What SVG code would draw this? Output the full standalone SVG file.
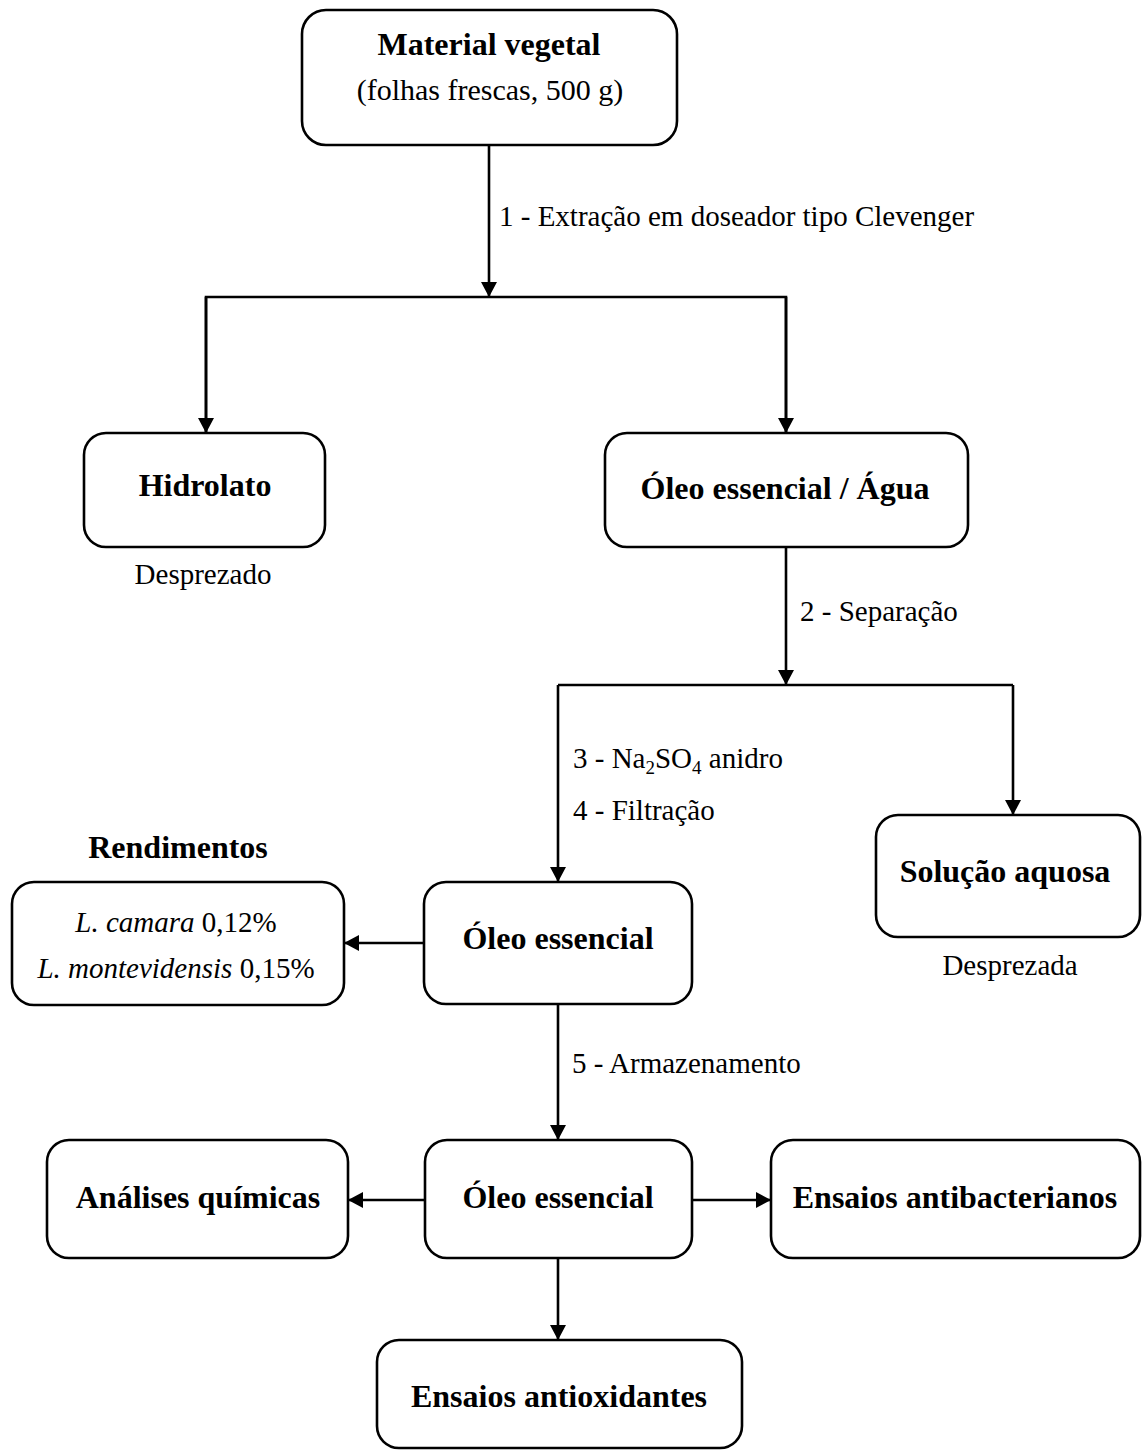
<svg xmlns="http://www.w3.org/2000/svg" width="1142" height="1452" viewBox="0 0 1142 1452">
<style>
  .box { fill: #ffffff; stroke: #000000; stroke-width: 2.6; }
  .conn { fill: none; stroke: #000000; stroke-width: 2.6; }
  text { font-family: "Liberation Serif", "Times New Roman", serif; fill: #000000; }
  .b { font-weight: bold; font-size: 32px; text-anchor: middle; }
  .r { font-size: 30px; text-anchor: middle; }
  .lbl { font-size: 29px; }
  .note { font-size: 29px; text-anchor: middle; }
  .it { font-style: italic; }
</style>
<defs>
  <marker id="arrow" viewBox="0 0 15 16" refX="15" refY="8" markerWidth="15" markerHeight="16" markerUnits="userSpaceOnUse" orient="auto">
    <path d="M0,0 L15,8 L0,16 Z" fill="#000000"/>
  </marker>
</defs>
<rect width="1142" height="1452" fill="#ffffff"/>

<g id="connectors">
  <line class="conn" x1="489" y1="145" x2="489" y2="297" marker-end="url(#arrow)"/>
  <polyline class="conn" points="206,433 206,297 786,297 786,433"/>
  <line class="conn" x1="206" y1="297" x2="206" y2="433" marker-end="url(#arrow)"/>
  <line class="conn" x1="786" y1="297" x2="786" y2="433" marker-end="url(#arrow)"/>
  <line class="conn" x1="786" y1="547" x2="786" y2="685" marker-end="url(#arrow)"/>
  <polyline class="conn" points="558,685 1013,685"/>
  <line class="conn" x1="558" y1="685" x2="558" y2="882" marker-end="url(#arrow)"/>
  <line class="conn" x1="1013" y1="685" x2="1013" y2="815" marker-end="url(#arrow)"/>
  <line class="conn" x1="424" y1="943" x2="344" y2="943" marker-end="url(#arrow)"/>
  <line class="conn" x1="558" y1="1004" x2="558" y2="1140" marker-end="url(#arrow)"/>
  <line class="conn" x1="425" y1="1200" x2="348" y2="1200" marker-end="url(#arrow)"/>
  <line class="conn" x1="692" y1="1200" x2="771" y2="1200" marker-end="url(#arrow)"/>
  <line class="conn" x1="558" y1="1258" x2="558" y2="1340" marker-end="url(#arrow)"/>
  <text class="lbl" x="499" y="226">1 - Extração em doseador tipo Clevenger</text>
  <text class="lbl" x="800" y="621">2 - Separação</text>
  <text class="lbl" x="573" y="768">3 - Na<tspan font-size="19" dy="6">2</tspan><tspan dy="-6">SO</tspan><tspan font-size="19" dy="6">4</tspan><tspan dy="-6"> anidro</tspan></text>
  <text class="lbl" x="573" y="820">4 - Filtração</text>
  <text class="lbl" x="572" y="1073">5 - Armazenamento</text>
</g>

<g id="material-vegetal">
  <rect class="box" x="302" y="10" width="375" height="135" rx="24"/>
  <text class="b" x="489" y="55">Material vegetal</text>
  <text class="r" x="490" y="100">(folhas frescas, 500 g)</text>
</g>

<g id="hidrolato">
  <rect class="box" x="84" y="433" width="241" height="114" rx="22"/>
  <text class="b" x="205" y="496">Hidrolato</text>
  <text class="note" x="203" y="584">Desprezado</text>
</g>

<g id="oleo-agua">
  <rect class="box" x="605" y="433" width="363" height="114" rx="22"/>
  <text class="b" x="785" y="499">Óleo essencial / Água</text>
</g>

<g id="solucao-aquosa">
  <rect class="box" x="876" y="815" width="264" height="122" rx="22"/>
  <text class="b" x="1005" y="882">Solução aquosa</text>
  <text class="note" x="1010" y="975">Desprezada</text>
</g>

<g id="rendimentos">
  <text class="b" x="178" y="858">Rendimentos</text>
  <rect class="box" x="12" y="882" width="332" height="123" rx="22"/>
  <text class="note" x="176" y="932"><tspan class="it">L. camara</tspan> 0,12%</text>
  <text class="note" x="176" y="978"><tspan class="it">L. montevidensis</tspan> 0,15%</text>
</g>

<g id="oleo-essencial-1">
  <rect class="box" x="424" y="882" width="268" height="122" rx="22"/>
  <text class="b" x="558" y="949">Óleo essencial</text>
</g>

<g id="oleo-essencial-2">
  <rect class="box" x="425" y="1140" width="267" height="118" rx="22"/>
  <text class="b" x="558" y="1208">Óleo essencial</text>
</g>

<g id="analises-quimicas">
  <rect class="box" x="47" y="1140" width="301" height="118" rx="22"/>
  <text class="b" x="198" y="1208">Análises químicas</text>
</g>

<g id="ensaios-antibacterianos">
  <rect class="box" x="771" y="1140" width="369" height="118" rx="22"/>
  <text class="b" x="955" y="1208">Ensaios antibacterianos</text>
</g>

<g id="ensaios-antioxidantes">
  <rect class="box" x="377" y="1340" width="365" height="108" rx="22"/>
  <text class="b" x="559" y="1407">Ensaios antioxidantes</text>
</g>
</svg>
